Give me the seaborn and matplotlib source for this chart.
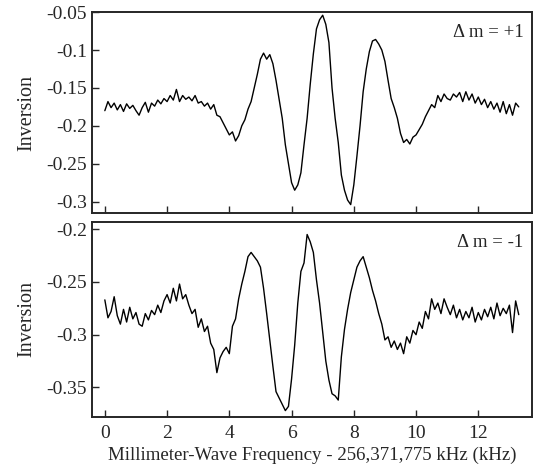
import numpy as np
import pandas as pd
import matplotlib
matplotlib.use("Agg")
import matplotlib.pyplot as plt
import seaborn as sns

# frequency grid (kHz offset), 0.1 kHz steps
freq = np.round(np.arange(0, 13.35, 0.1), 1)

# delta m = +1 trace
inv_plus = [
    -0.180, -0.168, -0.176, -0.170, -0.179, -0.172, -0.181, -0.171, -0.177, -0.173,
    -0.180, -0.186, -0.176, -0.169, -0.182, -0.170, -0.174, -0.166, -0.171, -0.164,
    -0.168, -0.160, -0.166, -0.152, -0.168, -0.160, -0.165, -0.162, -0.167, -0.160,
    -0.170, -0.168, -0.174, -0.170, -0.178, -0.172, -0.186, -0.188, -0.196, -0.204,
    -0.212, -0.208, -0.220, -0.213, -0.200, -0.192, -0.178, -0.168, -0.150, -0.132,
    -0.112, -0.104, -0.112, -0.106, -0.118, -0.140, -0.165, -0.190, -0.225, -0.250,
    -0.275, -0.285, -0.278, -0.262, -0.225, -0.190, -0.145, -0.105, -0.072, -0.060,
    -0.054, -0.066, -0.090, -0.150, -0.190, -0.222, -0.265, -0.285, -0.298, -0.304,
    -0.278, -0.240, -0.200, -0.155, -0.125, -0.102, -0.088, -0.086, -0.092, -0.100,
    -0.115, -0.140, -0.164, -0.176, -0.190, -0.210, -0.222, -0.218, -0.224, -0.215,
    -0.212, -0.205, -0.198, -0.188, -0.180, -0.172, -0.176, -0.160, -0.168, -0.158,
    -0.164, -0.166, -0.158, -0.162, -0.156, -0.168, -0.155, -0.166, -0.158, -0.170,
    -0.162, -0.172, -0.165, -0.176, -0.168, -0.178, -0.170, -0.182, -0.168, -0.184,
    -0.172, -0.186, -0.170, -0.175,
]

# delta m = -1 trace
inv_minus = [
    -0.267, -0.284, -0.278, -0.264, -0.282, -0.290, -0.276, -0.288, -0.274, -0.285,
    -0.279, -0.290, -0.292, -0.280, -0.286, -0.277, -0.281, -0.272, -0.279, -0.268,
    -0.262, -0.270, -0.256, -0.268, -0.252, -0.266, -0.262, -0.272, -0.280, -0.276,
    -0.293, -0.285, -0.297, -0.292, -0.308, -0.314, -0.336, -0.322, -0.316, -0.312,
    -0.318, -0.292, -0.285, -0.266, -0.252, -0.240, -0.226, -0.222, -0.226, -0.230,
    -0.236, -0.256, -0.280, -0.305, -0.330, -0.354, -0.360, -0.366, -0.372, -0.368,
    -0.342, -0.310, -0.270, -0.240, -0.232, -0.205, -0.212, -0.222, -0.248, -0.270,
    -0.298, -0.325, -0.343, -0.356, -0.358, -0.362, -0.321, -0.295, -0.276, -0.260,
    -0.248, -0.236, -0.230, -0.226, -0.236, -0.246, -0.258, -0.268, -0.280, -0.290,
    -0.305, -0.302, -0.312, -0.306, -0.314, -0.308, -0.318, -0.302, -0.308, -0.296,
    -0.300, -0.288, -0.294, -0.278, -0.285, -0.266, -0.276, -0.270, -0.280, -0.266,
    -0.274, -0.281, -0.272, -0.284, -0.276, -0.286, -0.278, -0.284, -0.274, -0.288,
    -0.279, -0.286, -0.276, -0.283, -0.274, -0.285, -0.270, -0.282, -0.275, -0.280,
    -0.272, -0.298, -0.268, -0.281,
]

top_ticks = [-0.05, -0.1, -0.15, -0.2, -0.25, -0.3]
top_labels = ["-0.05", "-0.1", "-0.15", "-0.2", "-0.25", "-0.3"]
bot_ticks = [-0.2, -0.25, -0.3, -0.35]
bot_labels = ["-0.2", "-0.25", "-0.3", "-0.35"]
x_ticks = [0, 2, 4, 6, 8, 10, 12]

sns.set_style("ticks")
plt.rcParams["font.family"] = ["Liberation Serif", "DejaVu Serif"]
plt.rcParams.update({"font.size": 14})

fig = plt.figure(figsize=(5.43, 4.69), dpi=100)
ax1 = fig.add_axes([0.169, 0.546, 0.811, 0.428])
ax2 = fig.add_axes([0.169, 0.111, 0.811, 0.416])

df_plus = pd.DataFrame({"freq": freq, "inv": inv_plus})
df_minus = pd.DataFrame({"freq": freq, "inv": inv_minus})

sns.lineplot(data=df_plus, x="freq", y="inv", ax=ax1, color="black", lw=1.0)
sns.lineplot(data=df_minus, x="freq", y="inv", ax=ax2, color="black", lw=1.0)

for ax in (ax1, ax2):
    ax.set_xlim(-0.42, 13.73)
    ax.set_xticks(x_ticks)
    ax.tick_params(direction="in", length=5, width=1, labelsize=14)
    ax.tick_params(axis="x", pad=6)
    for s in ax.spines.values():
        s.set_linewidth(1.4)
    ax.set_ylabel("Inversion", fontsize=14.5)

ax1.set_ylim(-0.315, -0.05)
ax1.set_yticks(top_ticks)
ax1.set_yticklabels(top_labels)
ax1.set_xticklabels([])
ax1.set_xlabel("")
ax1.text(0.98, 0.94, "\u0394 m = +1", transform=ax1.transAxes, ha="right", va="top", fontsize=13.5)

ax2.set_ylim(-0.378, -0.193)
ax2.set_yticks(bot_ticks)
ax2.set_yticklabels(bot_labels)
ax2.set_xlabel("Millimeter-Wave Frequency - 256,371,775 kHz (kHz)", fontsize=13.6, labelpad=3)
ax2.text(0.98, 0.94, "\u0394 m = -1", transform=ax2.transAxes, ha="right", va="top", fontsize=13.5)

ax1.yaxis.set_label_coords(-0.125, 0.5)
ax2.yaxis.set_label_coords(-0.125, 0.5)

fig.savefig("out.png", dpi=100)
